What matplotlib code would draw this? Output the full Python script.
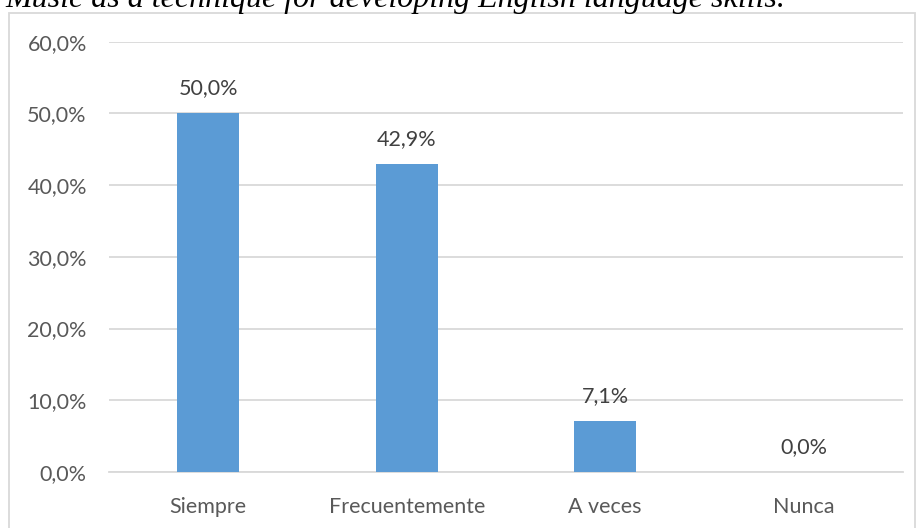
import matplotlib.pyplot as plt
from matplotlib.patches import Rectangle

categorias = ["Siempre", "Frecuentemente", "A veces", "Nunca"]
valores = [50.0, 42.9, 7.1, 0.0]
ticks_y = [0, 10, 20, 30, 40, 50, 60]

W, H = 917, 528
fig = plt.figure(figsize=(W / 100, H / 100), dpi=100)
ax = fig.add_axes([109 / W, 1 - 472 / H, 794 / W, (472 - 41.7) / H])

azul = "#5b9bd5"
gris_txt = "#595959"
gris_lin = "#d9d9d9"
fs = 15.5

x = range(len(categorias))
barras = ax.bar(x, valores, width=0.31, color=azul, zorder=3)
for xi, v in zip(x, valores):
    ax.annotate(f"{v:.1f}%".replace(".", ","), (xi, v), xytext=(0, 11),
                textcoords="offset points", ha="center", va="bottom",
                fontsize=fs, color="#404040", family="Lato")

ax.set_xlim(-0.5, len(categorias) - 0.5)
ax.set_ylim(0, 60)
ax.set_yticks(ticks_y)
ax.set_yticklabels([f"{t:.1f}%".replace(".", ",") for t in ticks_y],
                   fontsize=fs, color=gris_txt, family="Lato")
ax.set_xticks(list(x))
ax.set_xticklabels(categorias, fontsize=fs, color=gris_txt, family="Lato")
ax.tick_params(axis="y", length=0, pad=16)
ax.tick_params(axis="x", length=0, pad=18)
ax.grid(axis="y", color=gris_lin, linewidth=1.3, zorder=0)
for s in ["top", "right", "left"]:
    ax.spines[s].set_visible(False)
ax.spines["bottom"].set_color(gris_lin)
ax.spines["bottom"].set_linewidth(1.3)

# borde del area del grafico
fig.patches.append(Rectangle((9 / W, -0.01), (915 - 9) / W, 1 - 13 / H + 0.01,
                             transform=fig.transFigure, fill=False,
                             edgecolor="#d9d9d9", linewidth=1.3))

fig.text(5 / W, 1 - 7 / H, "Music as a technique for developing English language skills.",
         fontsize=23, style="italic", family="Liberation Serif", va="baseline", ha="left")

fig.savefig("out.png", dpi=100)
